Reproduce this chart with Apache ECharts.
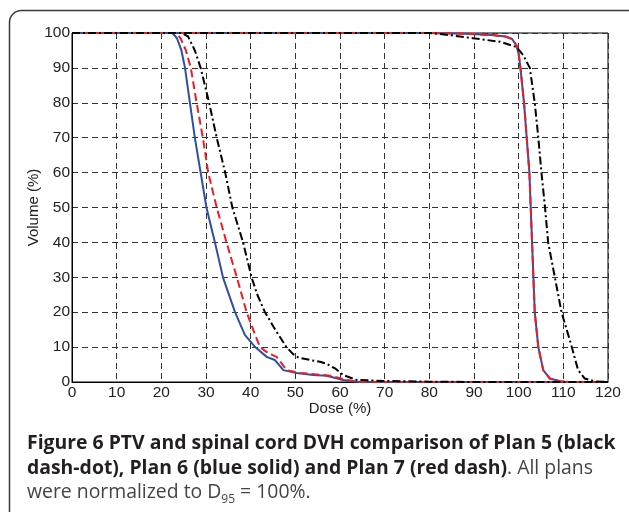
<!DOCTYPE html>
<html>
<head>
<meta charset="utf-8">
<script src="https://cdn.jsdelivr.net/npm/echarts@6/dist/echarts.min.js"></script>
<style>
  html, body { margin: 0; padding: 0; background: #fff; }
  #dvh-chart { width: 629px; height: 512px; }
</style>
</head>
<body>
<div id="dvh-chart"></div>
<script>
// 轴刻度
const doseTicks = [0, 10, 20, 30, 40, 50, 60, 70, 80, 90, 100, 110, 120]
const volumeTicks = [0, 10, 20, 30, 40, 50, 60, 70, 80, 90, 100]

// 脊髓 (spinal cord) DVH, [dose %, volume %]
const plan5Cord = [[0, 100], [24.5, 100], [26, 99], [27.5, 95], [28.8, 90], [30.7, 80], [32.4, 70], [34.3, 60],
  [35.9, 50], [38.3, 40], [40.2, 30], [41.5, 25], [43.2, 20], [45.5, 15], [48, 10], [49.5, 8], [50.7, 7],
  [53.3, 6.3], [55.5, 5.8], [57, 5.2], [59, 3.8], [60.7, 2], [63.7, 0.6], [70, 0.3], [80, 0.1], [90, 0], [120, 0]]
const plan6Cord = [[0, 100], [22.5, 100], [23.5, 98.5], [24.5, 95], [25.3, 90], [26.4, 80], [27.5, 70], [28.8, 60],
  [30.1, 50], [32, 40], [33.8, 30], [36.5, 20], [38.7, 13.5], [41, 10], [43.6, 7.2], [45.4, 6.3], [46.3, 5],
  [47.3, 3.4], [50.3, 2.6], [54, 2], [57, 1.8], [60.7, 0.6], [63.7, 0.1], [70, 0], [120, 0]]
const plan7Cord = [[0, 100], [23.3, 100], [24.3, 98.5], [25.5, 95], [26.6, 90], [27.9, 80], [29.3, 70], [30.5, 60],
  [32.4, 50], [34.6, 40], [36.9, 30], [39.1, 20], [41, 13.5], [42.1, 10], [44, 8.2], [45.8, 7.2], [46.9, 5.4],
  [48, 3.4], [51, 2.6], [55.5, 2.1], [57.8, 1.8], [61.5, 0.6], [63.7, 0.1], [70, 0], [120, 0]]

// PTV DVH
const plan5Ptv = [[0, 100], [80, 100], [84.6, 99.4], [89.8, 98.5], [95.8, 97.5], [99.5, 96], [101, 93.7],
  [102.5, 90], [103.6, 80], [104.4, 70], [105.1, 60], [105.9, 50], [106.6, 40], [108.1, 30], [109.6, 20],
  [111.9, 10], [113.3, 3.4], [114.8, 1], [117, 0.2], [120, 0]]
const plan6Ptv = [[0, 100], [80, 100], [88, 99.8], [94, 99.4], [97, 99], [98.5, 98.3], [99.5, 96.5], [100, 94],
  [100.4, 90], [101.2, 80], [101.8, 70], [102.4, 60], [102.7, 50], [103, 40], [103.3, 30], [103.6, 20],
  [104.4, 10], [105.5, 3.4], [107, 1], [109.2, 0.2], [111, 0], [120, 0]]
const plan7Ptv = [[0, 100], [80, 100], [88, 99.8], [94, 99.4], [97, 99], [98.5, 98.3], [99.5, 96.5], [100, 94],
  [100.4, 90], [101.2, 80], [101.8, 70], [102.4, 60], [102.7, 50], [103, 40], [103.3, 30], [103.6, 20],
  [104.4, 10], [105.5, 3.4], [107, 1], [109.2, 0.2], [111, 0], [120, 0]]

const axisFont = 'Liberation Sans, Arial, sans-serif'
const captionFont = 'Open Sans, sans-serif'
const captionSize = 19.4

// 线型
const blueLine = { color: '#2f4fa6', width: 2, type: 'solid' }
const redLine = { color: '#ee1c25', width: 2, type: [8, 4] }
const blackLine = { color: '#000', width: 2, type: [8, 3, 2, 3] }

function makeSeries(name, data, lineStyle) {
  return {
    name: name,
    type: 'line',
    data: data,
    symbol: 'none',
    smooth: false,
    lineStyle: lineStyle,
    itemStyle: { color: lineStyle.color },
    z: 3
  }
}

const myChart = echarts.init(document.getElementById('dvh-chart'))
const option = {
  animation: false,
  grid: {
    left: 72,
    right: 21,
    top: 33,
    bottom: 130,
    show: true,
    borderColor: '#000',
    borderWidth: 1
  },
  xAxis: {
    type: 'value',
    min: doseTicks[0],
    max: doseTicks[doseTicks.length - 1],
    interval: 10,
    name: 'Dose (%)',
    nameLocation: 'middle',
    nameGap: 19,
    nameMoveOverlap: false,
    nameTextStyle: { fontFamily: axisFont, fontSize: 15, color: '#222' },
    axisLine: { show: true, lineStyle: { color: '#000', width: 1 } },
    axisTick: { show: false },
    axisLabel: { fontFamily: axisFont, fontSize: 15.5, color: '#222', margin: 3 },
    splitLine: { show: true, lineStyle: { color: '#333', width: 1, type: [6, 4] } }
  },
  yAxis: {
    type: 'value',
    min: volumeTicks[0],
    max: volumeTicks[volumeTicks.length - 1],
    interval: 10,
    name: 'Volume (%)',
    nameLocation: 'middle',
    nameGap: 31,
    nameMoveOverlap: false,
    nameTextStyle: { fontFamily: axisFont, fontSize: 15, color: '#222' },
    axisLine: { show: true, lineStyle: { color: '#000', width: 1 } },
    axisTick: { show: false },
    axisLabel: { fontFamily: axisFont, fontSize: 15.5, color: '#222', margin: 2 },
    splitLine: { show: true, lineStyle: { color: '#333', width: 1, type: [6, 4] } }
  },
  series: [
    makeSeries('Plan 6', plan6Cord, blueLine),
    makeSeries('Plan 6', plan6Ptv, blueLine),
    makeSeries('Plan 7', plan7Cord, redLine),
    makeSeries('Plan 7', plan7Ptv, redLine),
    makeSeries('Plan 5', plan5Cord, blackLine),
    makeSeries('Plan 5', plan5Ptv, blackLine)
  ],
  graphic: [
    // 外框
    {
      type: 'rect',
      shape: { x: 9.5, y: 10.5, width: 640, height: 520, r: 12 },
      style: { fill: 'none', stroke: '#3a3a3a', lineWidth: 1.5 },
      z: 0
    },
    {
      type: 'text',
      left: 27,
      top: 434,
      style: {
        text: '{b|Figure 6 PTV and spinal cord DVH comparison of Plan 5 (black}',
        rich: { b: { fontFamily: captionFont, fontWeight: 'bold', fontSize: captionSize, fill: '#231f20' } }
      }
    },
    {
      type: 'text',
      left: 27,
      top: 459,
      style: {
        text: '{b|dash-dot), Plan 6 (blue solid) and Plan 7 (red dash)}{n|. All plans}',
        rich: {
          b: { fontFamily: captionFont, fontWeight: 'bold', fontSize: captionSize, fill: '#231f20' },
          n: { fontFamily: captionFont, fontSize: captionSize, fill: '#444' }
        }
      }
    },
    {
      type: 'text',
      left: 27,
      top: 483,
      style: {
        text: '{n|were normalized to D}{s|95}{n| = 100%.}',
        rich: {
          n: { fontFamily: captionFont, fontSize: captionSize, fill: '#444', lineHeight: 26 },
          s: { fontFamily: captionFont, fontSize: 12, fill: '#444', lineHeight: 12, verticalAlign: 'bottom' }
        }
      }
    }
  ]
}
myChart.setOption(option)
window.addEventListener('resize', function() {
  myChart.resize()
})
</script>
</body>
</html>
